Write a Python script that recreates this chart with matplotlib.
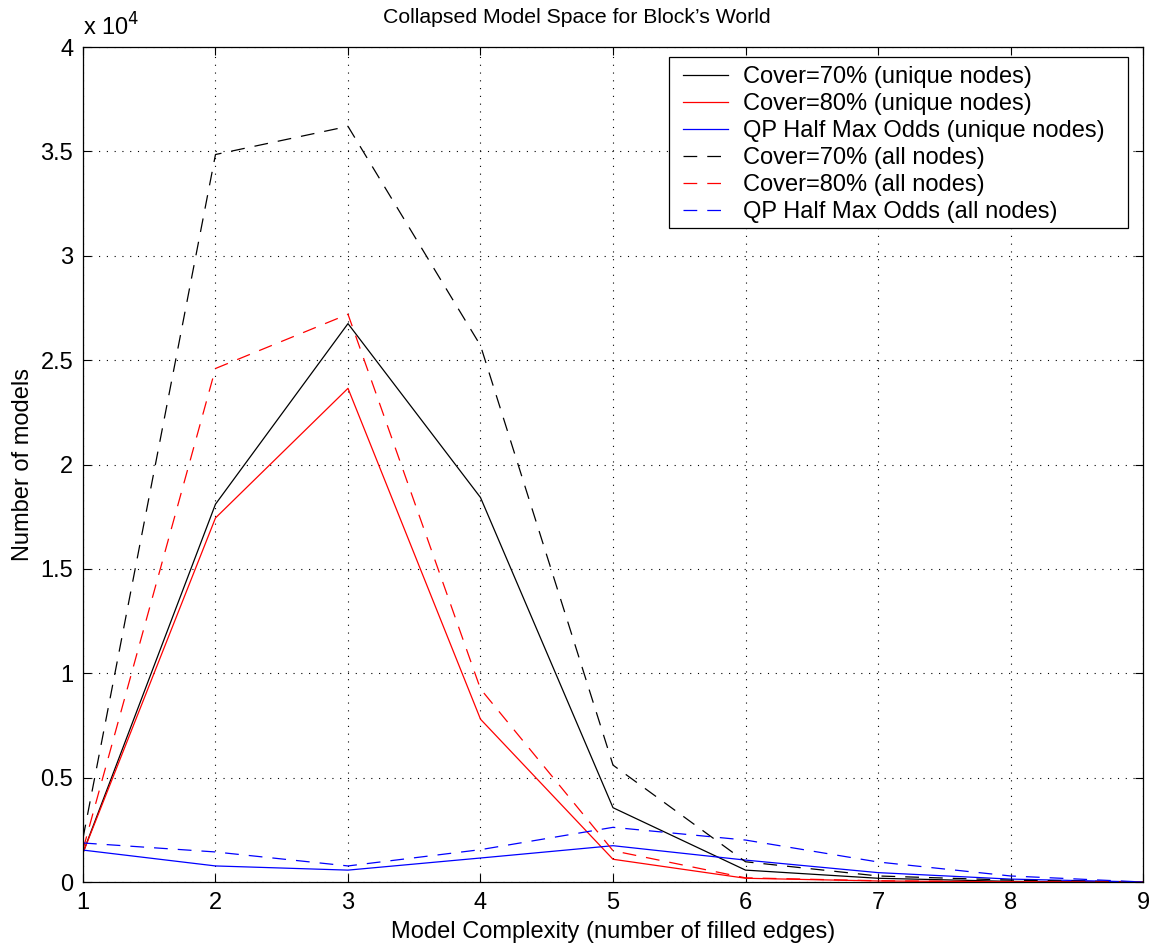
import matplotlib
matplotlib.use("Agg")
import matplotlib.pyplot as plt
from matplotlib.patches import Rectangle
from matplotlib.ticker import FuncFormatter

plt.rcParams['font.family'] = ['Liberation Sans', 'DejaVu Sans']

complexity = [1, 2, 3, 4, 5, 6, 7, 8, 9]
cover70_unique = [1400, 18100, 26750, 18420, 3560, 570, 180, 30, 0]
cover80_unique = [1390, 17440, 23650, 7800, 1090, 180, 50, 10, 0]
qp_unique = [1530, 770, 570, 1150, 1740, 1050, 450, 140, 0]
cover70_all = [2100, 34850, 36200, 25700, 5600, 970, 290, 90, 0]
cover80_all = [1550, 24600, 27200, 9250, 1500, 200, 60, 10, 0]
qp_all = [1870, 1440, 770, 1550, 2620, 2010, 960, 290, 0]

labels = ["Cover=70% (unique nodes)", "Cover=80% (unique nodes)",
          "QP Half Max Odds (unique nodes)", "Cover=70% (all nodes)",
          "Cover=80% (all nodes)", "QP Half Max Odds (all nodes)"]

FS = 17
fig = plt.figure(figsize=(11.54, 9.48), dpi=100)
ax = fig.add_axes([0.0719, 0.0696, 0.9186, 0.8808])

lw = 0.9
dash = (0, (11, 8))
series = [(cover70_unique, 'black', '-'), (cover80_unique, 'red', '-'),
          (qp_unique, 'blue', '-'), (cover70_all, 'black', dash),
          (cover80_all, 'red', dash), (qp_all, 'blue', dash)]
for (vals, c, ls), lab in zip(series, labels):
    ax.plot(complexity, vals, color=c, linestyle=ls, linewidth=lw, label=lab)

ax.set_xlim(1, 9)
ax.set_ylim(0, 40000)
ax.set_xticks(range(1, 10))
ax.set_yticks([i * 5000 for i in range(9)])
ax.yaxis.set_major_formatter(FuncFormatter(lambda v, p: ('%g' % (v / 1e4))))
ax.grid(True, color='black', linestyle=(0, (1, 6)), linewidth=0.8)
ax.tick_params(direction='in', top=True, right=True, labelsize=FS, length=6, width=0.8)
ax.tick_params(axis='x', pad=7)
ax.tick_params(axis='y', pad=7)
for s in ax.spines.values():
    s.set_linewidth(0.9)

ax.set_xlabel("Model Complexity (number of filled edges)", fontsize=FS, labelpad=5)
ax.set_ylabel("Number of models", fontsize=FS, labelpad=5)
ax.set_title("Collapsed Model Space for Block\u2019s World", fontsize=15.3, pad=17, x=0.466)
ax.text(0.0, 1.008, r"x 10$^{4}$", transform=ax.transAxes, fontsize=FS,
        ha='left', va='bottom')

# legend frame (MATLAB-style box)
frame = Rectangle((0.5528, 0.7832), 0.9858 - 0.5528, 0.988 - 0.7832,
                  transform=ax.transAxes, facecolor='white', edgecolor='black',
                  linewidth=0.9, zorder=4.5)
ax.add_patch(frame)
leg = ax.legend(loc='upper left', bbox_to_anchor=(0.5528, 0.994), fontsize=FS,
                frameon=False, handlelength=1.9, borderaxespad=0,
                labelspacing=0.21, borderpad=0.6, handletextpad=0.62)
leg.set_zorder(5)

fig.savefig("out.png", dpi=100)
